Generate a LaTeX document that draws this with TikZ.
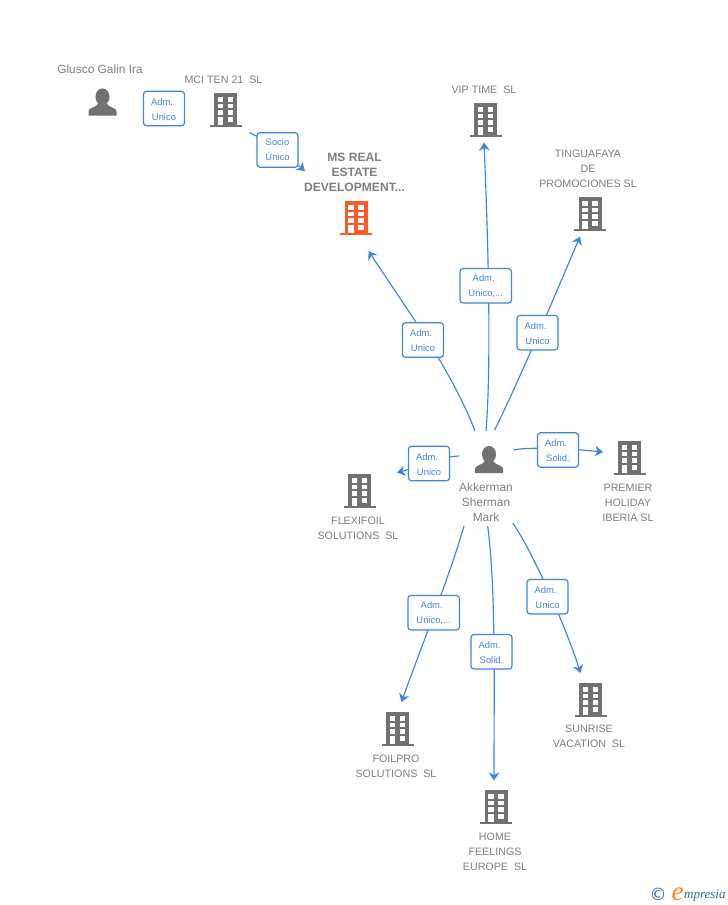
\documentclass[tikz,border=0pt]{standalone}
\usepackage{fontspec}
\setmainfont{Liberation Sans}
\newfontfamily\logoserif{Liberation Serif}
\newfontfamily\logosans{DejaVu Sans}
\usetikzlibrary{arrows.meta}
\definecolor{icongray}{HTML}{717171}
\definecolor{textgray}{HTML}{7F7F7F}
\definecolor{linkblue}{HTML}{3F85E0}
\definecolor{msorange}{HTML}{FF5A26}
\definecolor{logoteal}{HTML}{2F6F8C}
\definecolor{logoorange}{HTML}{F28A1E}
\newcommand{\adm}{\rule{0pt}{8.2pt}Adm.\hspace*{4pt}}
\tikzset{
  x=1pt,y=-1pt,
  bldg/.pic={
    \fill[pic actions] (-11.5,-17) rectangle (11.5,15);
    \fill[pic actions] (-16,15) rectangle (16,17);
    \foreach \wy in {-13,-6.3,0.3} {
      \fill[white] (-7.7,\wy) rectangle (-2.3,\wy+4.5);
      \fill[white] (2.3,\wy) rectangle (7.7,\wy+4.5);
    }
    \fill[white] (-7.7,7) rectangle (-2.3,15);
    \fill[white] (2.3,7) rectangle (7.7,11.5);
  },
  persona/.pic={
    \fill[pic actions] (0,-5.2) ellipse [x radius=7,y radius=8.4];
    \fill[pic actions] (-14,13.5) -- (-14,9.5) .. controls (-14,5.5) and (-7,6) .. (-4,1.5)
      -- (4,1.5) .. controls (7,6) and (14,5.5) .. (14,9.5) -- (14,13.5) -- cycle;
  },
  bnode/.style={inner sep=0pt,minimum width=32pt,minimum height=34pt},
  pnode/.style={inner sep=0pt,minimum width=28pt,minimum height=27pt},
  name text/.style={text=textgray,font=\fontsize{10.7}{15}\selectfont,align=center,inner sep=0pt},
  person text/.style={name text,font=\fontsize{11.9}{15}\selectfont},
  main text/.style={name text,font=\fontsize{12.1}{15}\selectfont\bfseries},
  linkbox/.style={draw=linkblue,line width=1.2pt,rounded corners=3pt,fill=white,text=linkblue,
    font=\fontsize{9.4}{15}\selectfont,align=center,inner sep=0pt,minimum width=41pt,minimum height=34.5pt},
  widebox/.style={linkbox,minimum width=51.5pt},
  conn/.style={draw=linkblue,line width=1.15pt,-{Stealth[length=8pt,width=10.5pt,inset=2.5pt]}},
}
\begin{document}
\begin{tikzpicture}
\useasboundingbox (0,0) rectangle (728,905);
\fill[white] (0,0) rectangle (728,905);

% icons
\node[pnode] (glusco) at (102.5,102) {};
\node[pnode] (akk) at (489,459.5) {};
\node[bnode] (mci) at (225.5,110) {};
\node[bnode] (ms) at (356,218) {};
\node[bnode] (vip) at (485.5,120) {};
\node[bnode] (ting) at (590,214) {};
\node[bnode] (prem) at (629.5,458) {};
\node[bnode] (flex) at (359.5,491) {};
\node[bnode] (foil) at (397.5,729) {};
\node[bnode] (home) at (496,807) {};
\node[bnode] (sun) at (590.5,700) {};

\pic[fill=icongray] at (glusco.center) {persona};
\pic[fill=icongray] at (akk.center) {persona};
\pic[fill=icongray] at (mci.center) {bldg};
\pic[fill=msorange] at (ms.center) {bldg};
\pic[fill=icongray] at (vip.center) {bldg};
\pic[fill=icongray] at (ting.center) {bldg};
\pic[fill=icongray] at (prem.center) {bldg};
\pic[fill=icongray] at (flex.center) {bldg};
\pic[fill=icongray] at (foil.center) {bldg};
\pic[fill=icongray] at (home.center) {bldg};
\pic[fill=icongray] at (sun.center) {bldg};

% names
\node[person text] (tglusco) at (100,69.5) {Glusco Galin Ira};
\node[name text] (tmci) at (223.5,79.5) {MCI TEN 21\ \ SL};
\node[main text] (tms) at (354.5,172.5) {MS REAL\\ESTATE\\DEVELOPMENT...};
\node[name text] (tvip) at (484,89.5) {VIP TIME\ \ SL};
\node[name text] (tting) at (588,168.5) {TINGUAFAYA\\DE\\PROMOCIONES SL};
\node[name text] (tprem) at (628,502.5) {PREMIER\\HOLIDAY\\IBERIA SL};
\node[person text] (takk) at (486,502.5) {Akkerman\\Sherman\\Mark};
\node[name text] (tflex) at (358,528) {FLEXIFOIL\\SOLUTIONS\ \ SL};
\node[name text] (tfoil) at (396,766) {FOILPRO\\SOLUTIONS\ \ SL};
\node[name text] (thome) at (495,851.5) {HOME\\FEELINGS\\EUROPE\ \ SL};
\node[name text] (tsun) at (589,736) {SUNRISE\\VACATION\ \ SL};

% connectors
\draw[conn] ([shift={(-14,-28.5)}]akk.center) .. controls (452,371) and (408,311) .. ([shift={(12.5,33)}]ms.center);
\draw[conn] ([shift={(-3,-28.5)}]akk.center) .. controls (491,370) and (489,260) .. ([shift={(-1.5,22.5)}]vip.center);
\draw[conn] ([shift={(5.5,-29.5)}]akk.center) .. controls (515,390) and (553,300) .. ([shift={(-10,22.5)}]ting.center);
\draw[conn] ([shift={(24.5,-9.5)}]akk.center) .. controls (530,446) and (585,450) .. ([shift={(-26.5,-6)}]prem.center);
\draw[conn] ([shift={(-30,-3.5)}]akk.center) .. controls (445,456) and (412,469) .. ([shift={(37.5,-18.5)}]flex.center);
\draw[conn] ([shift={(-25,66.5)}]akk.center) .. controls (450,575) and (420,650) .. ([shift={(4,-27)}]foil.center);
\draw[conn] ([shift={(-1.3,66.5)}]akk.center) .. controls (496,590) and (494,690) .. ([shift={(-2,-26.5)}]home.center);
\draw[conn] ([shift={(23.7,63.5)}]akk.center) .. controls (533,552) and (567,630) .. ([shift={(-10,-27)}]sun.center);
\draw[conn] ([shift={(23.8,22.7)}]mci.center) .. controls (258,135) and (298,165) .. ([shift={(-51,-47)}]ms.center);

% link labels
\node[linkbox] (l0) at (164,108.5) {\adm\\Unico};
\node[linkbox] (l1) at (277.5,150) {Socio\\Único};
\node[linkbox] (l2) at (423,340) {\adm\\Unico};
\node[widebox] (l3) at (485.7,285.8) {\adm\\Unico,...};
\node[linkbox] (l4) at (537.5,332.7) {\adm\\Unico};
\node[linkbox] (l5) at (558,450) {\adm\\Solid.};
\node[linkbox] (l6) at (429,463.5) {\adm\\Unico};
\node[widebox] (l7) at (433.7,612.7) {\adm\\Unico,...};
\node[linkbox] (l8) at (491.5,651.8) {\adm\\Solid.};
\node[linkbox] (l9) at (547.5,596.7) {\adm\\Unico};

% logo
\node[text=logoteal,font=\logosans\fontsize{17}{17}\selectfont,inner sep=0pt] (copy) at (658,894.5) {©};
\node[text=logoorange,font=\logoserif\itshape\fontsize{27}{27}\selectfont,inner sep=0pt,anchor=base] (loge) at (677.5,900) {e};
\node[text=logoteal,font=\logoserif\itshape\fontsize{13}{13}\selectfont,inner sep=0pt,anchor=base west] (logt) at (684,898.5) {mpresia};
\end{tikzpicture}
\end{document}
